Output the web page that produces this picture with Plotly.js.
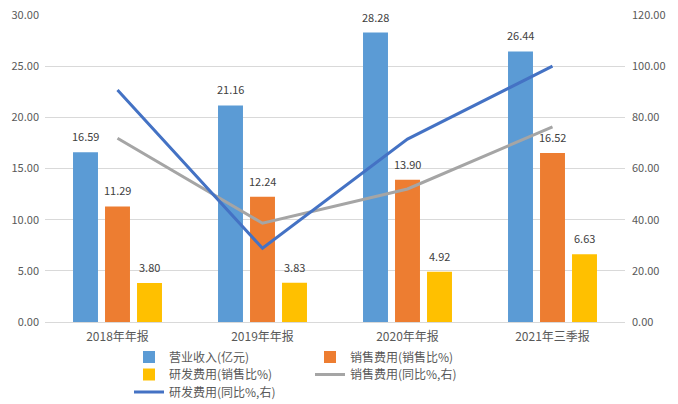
<!DOCTYPE html>
<html><head><meta charset="utf-8">
<script src="https://cdn.plot.ly/plotly-3.0.1.min.js"></script>
<style>html,body{margin:0;padding:0;background:#fff}#c{width:678px;height:404px;outline:1px solid #d9d9d9;outline-offset:-1px}</style>
</head><body><div id="c"></div><script>
const categories = ['2018年年报', '2019年年报', '2020年年报', '2021年三季报'];
const revenue = [16.59, 21.16, 28.28, 26.44];
const salesExp = [11.29, 12.24, 13.90, 16.52];
const rdExp = [3.80, 3.83, 4.92, 6.63];
const salesYoY = [71.8, 38.6, 52.0, 76.3];
const rdYoY = [90.7, 28.8, 71.5, 100.0];
const names = ['营业收入(亿元)', '销售费用(销售比%)', '研发费用(销售比%)', '销售费用(同比%,右)', '研发费用(同比%,右)'];

const F = '"Noto Sans CJK SC", "Noto Sans", sans-serif';
const lblFont = {family: F, size: 11, color: '#404040'};

function barTrace(y, name, color, legend) {
  return {type: 'bar', x: categories, y: y, name: name, marker: {color: color},
    legend: legend, hoverinfo: 'skip'};
}
const barSeries = [revenue, salesExp, rdExp];
const data = [
  barTrace(revenue, names[0], '#5b9bd5', 'legend'),
  barTrace(salesExp, names[1], '#ed7d31', 'legend'),
  barTrace(rdExp, names[2], '#ffc000', 'legend2'),
  {type: 'scatter', mode: 'lines', x: categories, y: salesYoY, name: names[3], yaxis: 'y2',
   line: {color: '#a5a5a5', width: 3}, legend: 'legend2', hoverinfo: 'skip'},
  {type: 'scatter', mode: 'lines', x: categories, y: rdYoY, name: names[4], yaxis: 'y2',
   line: {color: '#4472c4', width: 3}, legend: 'legend3', hoverinfo: 'skip'}
];
// value labels above each bar (bar slot within group = 32px)
const annotations = [];
barSeries.forEach((vals, k) => {
  vals.forEach((v, i) => {
    annotations.push({x: categories[i], y: v, xref: 'x', yref: 'y', text: v.toFixed(2),
      showarrow: false, xanchor: 'center', yanchor: 'bottom', xshift: (k - 1) * 32, yshift: 6,
      font: lblFont});
  });
});
function leg(ypx) {
  return {orientation: 'h', xref: 'container', yref: 'container',
    x: 129 / 678, xanchor: 'left', y: 1 - ypx / 404, yanchor: 'middle',
    entrywidth: 136, entrywidthmode: 'pixels', bgcolor: 'rgba(0,0,0,0)', borderwidth: 0,
    font: {family: F, size: 12, color: '#595959'}, itemclick: false};
}
const layout = {
  width: 678, height: 404,
  margin: {l: 45, r: 53, t: 15, b: 82},
  paper_bgcolor: '#fff', plot_bgcolor: '#fff',
  font: {family: F, size: 11, color: '#595959'},
  barmode: 'group', bargap: 0.338, bargroupgap: 0.22,
  showlegend: true,
  annotations: annotations,
  xaxis: {type: 'category', showgrid: false, showline: true, linecolor: '#d9d9d9', linewidth: 1,
    ticks: '', tickfont: {family: F, size: 12, color: '#595959'}, ticklabelstandoff: 4, fixedrange: true, automargin: false},
  yaxis: {range: [0, 30], dtick: 5, tickformat: '.2f', gridcolor: '#d9d9d9', gridwidth: 1,
    zeroline: false, ticks: '', tickfont: {family: F, size: 11, color: '#595959'}, ticklabelstandoff: 5, fixedrange: true, automargin: false},
  yaxis2: {range: [0, 120], dtick: 20, tickformat: '.2f', overlaying: 'y', side: 'right', showgrid: false,
    zeroline: false, ticks: '', tickfont: {family: F, size: 11, color: '#595959'}, ticklabelstandoff: 6, fixedrange: true, automargin: false},
  legend: leg(357),
  legend2: leg(374.5),
  legend3: leg(392)
};
Plotly.newPlot('c', data, layout, {displayModeBar: false, staticPlot: true});
</script></body></html>
